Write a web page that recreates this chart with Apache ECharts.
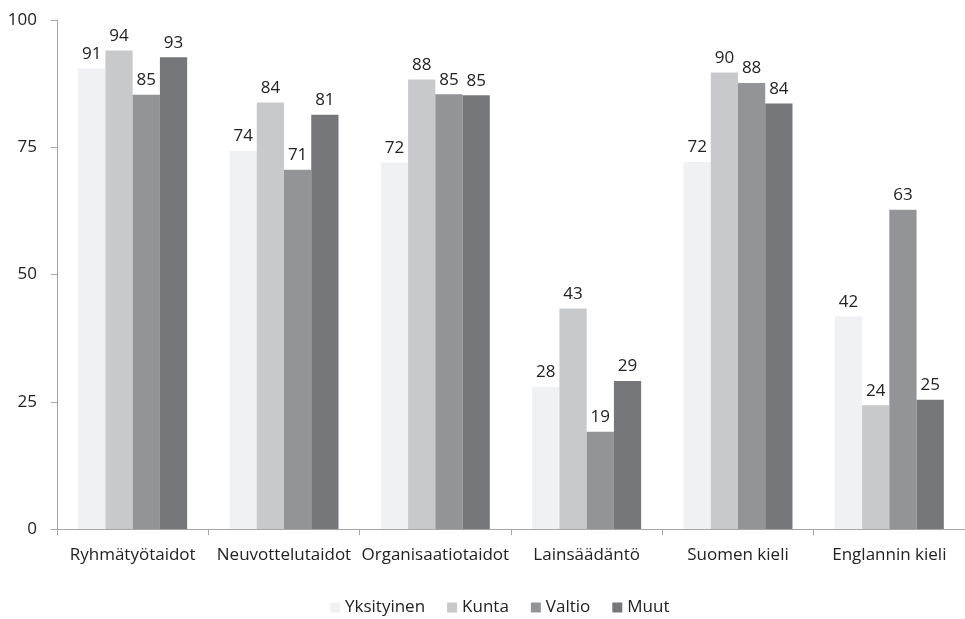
<!DOCTYPE html>
<html><head><meta charset="utf-8">
<script src="https://cdn.jsdelivr.net/npm/echarts@6/dist/echarts.min.js"></script>
<style>html,body{margin:0;padding:0;background:#fff}#c{width:965px;height:619px}</style>
</head><body><div id="c"></div>
<script>
const categories = ["Ryhmätyötaidot","Neuvottelutaidot","Organisaatiotaidot","Lainsäädäntö","Suomen kieli","Englannin kieli"];
const seriesNames = ["Yksityinen","Kunta","Valtio","Muut"];
const yksityinen = [90.5, 74.3, 72.0, 27.9, 72.1, 41.8];
const kunta      = [94.0, 83.8, 88.3, 43.3, 89.7, 24.3];
const valtio     = [85.3, 70.6, 85.4, 19.1, 87.6, 62.7];
const muut       = [92.7, 81.4, 85.2, 29.1, 83.6, 25.4];
const yTicks = [0, 25, 50, 75, 100];
const colors = ["#f0f1f3","#c8c9cb","#939497","#76777a"];
const FONT = "Open Sans";
const FS = 17;
const dataSets = [yksityinen, kunta, valtio, muut];
const chart = echarts.init(document.getElementById('c'));
chart.setOption({
  animation:false,
  textStyle:{fontFamily:FONT},
  grid:{left:57, top:20, width:916, height:509, containLabel:false},
  legend:{
    data:seriesNames, top:594, left:325, itemWidth:10, itemHeight:10, itemGap:22,
    icon:'rect', textStyle:{fontFamily:FONT,fontSize:FS,color:'#222'}
  },
  xAxis:{type:'category', data:categories,
    axisLine:{lineStyle:{color:'#a6a6a6'}},
    axisTick:{show:true, length:6, lineStyle:{color:'#a6a6a6'}},
    axisLabel:{interval:0, fontFamily:FONT,fontSize:FS,color:'#222',margin:18}},
  yAxis:{type:'value', min:0, max:100, interval:25,
    axisLine:{show:true,lineStyle:{color:'#a6a6a6'}},
    axisTick:{show:true,length:6,lineStyle:{color:'#a6a6a6'}},
    splitLine:{show:false},
    axisLabel:{fontFamily:FONT,fontSize:FS,color:'#222',margin:20,
      formatter:v=>yTicks.includes(v)?String(v):''}},
  series: dataSets.map((d,i)=>({
    name:seriesNames[i], type:'bar', data:d, barGap:'0%', barCategoryGap:'28%',
    itemStyle:{color:colors[i]},
    label:{show:true, position:'top', distance:6, fontFamily:FONT, fontSize:FS, color:'#222',
      formatter:p=>Math.round(p.value)}
  }))
});
</script></body></html>
